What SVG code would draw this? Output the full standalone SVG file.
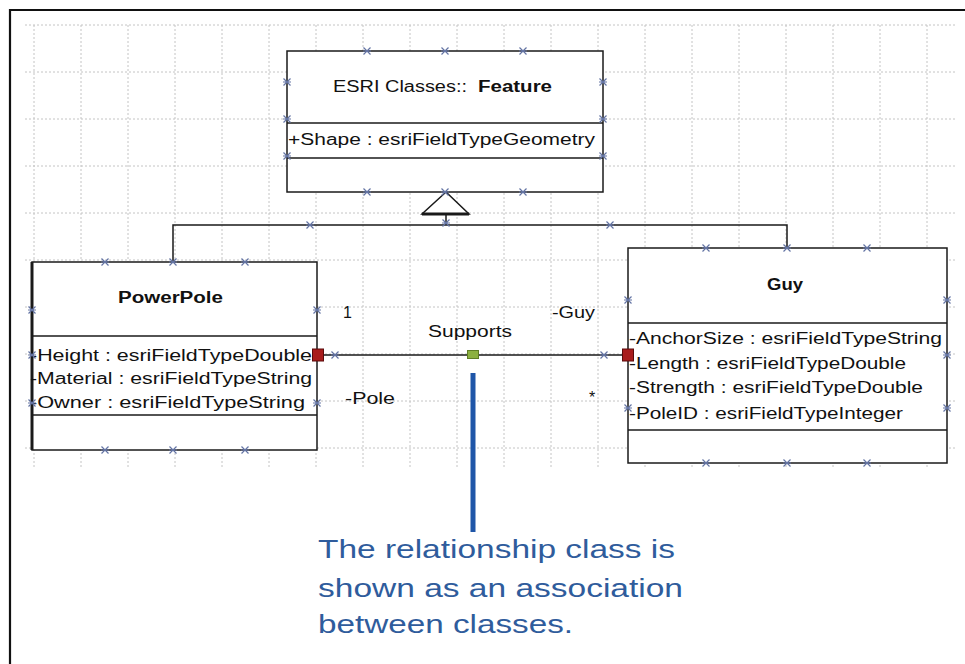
<svg xmlns="http://www.w3.org/2000/svg" width="965" height="664" viewBox="0 0 965 664">
  <defs>
    <style>
      .grid line { stroke: #c4c4c4; stroke-width: 1; stroke-dasharray: 2 2; }
      .box { fill: #ffffff; stroke: #1a1a1a; stroke-width: 1.5; }
      .sep { stroke: #1a1a1a; stroke-width: 1.5; }
      .conn { fill: none; stroke: #1a1a1a; stroke-width: 1.5; }
      .uml { font-family: "Liberation Sans", Arial, sans-serif; font-size: 16px; fill: #111111; }
      .title { font-weight: bold; }
      .note { font-family: "Liberation Sans", Arial, sans-serif; font-size: 25px; fill: #2f5c9c; }
      .handle { fill: none; stroke: #6474a4; stroke-width: 1.2; }
    </style>
    <g id="x">
      <path class="handle" d="M-3.5,-3.5 L3.5,3.5 M-3.5,3.5 L3.5,-3.5 M-4,0 L4,0"/>
    </g>
  </defs>

  <rect width="965" height="664" fill="#ffffff"/>

  <!-- frame -->
  <path d="M10,664 L10,10 L965,10" fill="none" stroke="#111111" stroke-width="2.2"/>

  <!-- drawing grid -->
  <g class="grid">
    <line x1="34" y1="25" x2="34" y2="468"/>
    <line x1="81" y1="25" x2="81" y2="468"/>
    <line x1="128" y1="25" x2="128" y2="468"/>
    <line x1="175" y1="25" x2="175" y2="468"/>
    <line x1="222" y1="25" x2="222" y2="468"/>
    <line x1="269" y1="25" x2="269" y2="468"/>
    <line x1="316" y1="25" x2="316" y2="468"/>
    <line x1="363" y1="25" x2="363" y2="468"/>
    <line x1="410" y1="25" x2="410" y2="468"/>
    <line x1="457" y1="25" x2="457" y2="468"/>
    <line x1="504" y1="25" x2="504" y2="468"/>
    <line x1="551" y1="25" x2="551" y2="468"/>
    <line x1="598" y1="25" x2="598" y2="468"/>
    <line x1="645" y1="25" x2="645" y2="468"/>
    <line x1="692" y1="25" x2="692" y2="468"/>
    <line x1="739" y1="25" x2="739" y2="468"/>
    <line x1="786" y1="25" x2="786" y2="468"/>
    <line x1="833" y1="25" x2="833" y2="468"/>
    <line x1="880" y1="25" x2="880" y2="468"/>
    <line x1="927" y1="25" x2="927" y2="468"/>
    <line x1="25" y1="25" x2="955" y2="25"/>
    <line x1="25" y1="72" x2="955" y2="72"/>
    <line x1="25" y1="119" x2="955" y2="119"/>
    <line x1="25" y1="166" x2="955" y2="166"/>
    <line x1="25" y1="213" x2="955" y2="213"/>
    <line x1="25" y1="260" x2="955" y2="260"/>
    <line x1="25" y1="307" x2="955" y2="307"/>
    <line x1="25" y1="354" x2="955" y2="354"/>
    <line x1="25" y1="401" x2="955" y2="401"/>
    <line x1="25" y1="448" x2="955" y2="448"/>
  </g>

  <!-- connectors -->
  <g id="connectors">
    <!-- generalization to Feature -->
    <path class="conn" d="M173,262 L173,225 L787,225 L787,248"/>
    <path class="conn" d="M446,214 L446,225"/>
    <polygon points="446,192 422,214 469,214" fill="#ffffff" stroke="#1a1a1a" stroke-width="1.5"/>
    <line x1="422" y1="214" x2="469" y2="214" stroke="#1a1a1a" stroke-width="3"/>
    <!-- Supports association -->
    <line class="conn" x1="317" y1="355" x2="628" y2="355"/>
  </g>

  <!-- Feature class -->
  <g id="feature">
    <rect class="box" x="287" y="51" width="316" height="141"/>
    <line class="sep" x1="287" y1="123" x2="603" y2="123"/>
    <line class="sep" x1="287" y1="158" x2="603" y2="158"/>
    <text class="uml" x="333" y="92" textLength="134" lengthAdjust="spacingAndGlyphs">ESRI Classes::</text>
    <text class="uml title" x="478" y="92" textLength="74" lengthAdjust="spacingAndGlyphs">Feature</text>
    <text class="uml" x="288" y="145" textLength="307" lengthAdjust="spacingAndGlyphs">+Shape : esriFieldTypeGeometry</text>
  </g>

  <!-- PowerPole class -->
  <g id="powerpole">
    <rect class="box" x="32" y="262" width="285" height="188"/>
    <line x1="32" y1="262" x2="32" y2="450" stroke="#1a1a1a" stroke-width="3"/>
    <line class="sep" x1="32" y1="336" x2="317" y2="336"/>
    <line class="sep" x1="32" y1="415" x2="317" y2="415"/>
    <text class="uml title" x="118" y="303" textLength="105" lengthAdjust="spacingAndGlyphs">PowerPole</text>
    <text class="uml" x="30" y="361" textLength="282" lengthAdjust="spacingAndGlyphs">-Height : esriFieldTypeDouble</text>
    <text class="uml" x="30" y="384" textLength="282" lengthAdjust="spacingAndGlyphs">-Material : esriFieldTypeString</text>
    <text class="uml" x="30" y="408" textLength="275" lengthAdjust="spacingAndGlyphs">-Owner : esriFieldTypeString</text>
  </g>

  <!-- Guy class -->
  <g id="guy">
    <rect class="box" x="628" y="248" width="319" height="215"/>
    <line class="sep" x1="628" y1="323" x2="947" y2="323"/>
    <line class="sep" x1="628" y1="430" x2="947" y2="430"/>
    <text class="uml title" x="767" y="290" textLength="36" lengthAdjust="spacingAndGlyphs">Guy</text>
    <text class="uml" x="629" y="344" textLength="313" lengthAdjust="spacingAndGlyphs">-AnchorSize : esriFieldTypeString</text>
    <text class="uml" x="629" y="369" textLength="277" lengthAdjust="spacingAndGlyphs">-Length : esriFieldTypeDouble</text>
    <text class="uml" x="629" y="393" textLength="294" lengthAdjust="spacingAndGlyphs">-Strength : esriFieldTypeDouble</text>
    <text class="uml" x="629" y="419" textLength="274" lengthAdjust="spacingAndGlyphs">-PoleID : esriFieldTypeInteger</text>
  </g>

  <!-- association ends and labels -->
  <g id="supports">
    <rect x="312.5" y="349" width="11" height="12" fill="#a81c1c" stroke="#5a0a0a" stroke-width="1"/>
    <rect x="622.5" y="349" width="11" height="12" fill="#a81c1c" stroke="#5a0a0a" stroke-width="1"/>
    <rect x="467.5" y="350.5" width="11" height="8" fill="#8cb040" stroke="#5f7d25" stroke-width="1"/>
    <text class="uml" x="343" y="318">1</text>
    <text class="uml" x="552" y="318" textLength="43" lengthAdjust="spacingAndGlyphs">-Guy</text>
    <text class="uml" x="428" y="337" textLength="84" lengthAdjust="spacingAndGlyphs">Supports</text>
    <text class="uml" x="345" y="404" textLength="50" lengthAdjust="spacingAndGlyphs">-Pole</text>
    <text class="uml" x="589" y="403">*</text>
  </g>

  <!-- connection handles -->
  <g id="handles">
    <use href="#x" x="367" y="51"/><use href="#x" x="445" y="51"/><use href="#x" x="523" y="51"/>
    <use href="#x" x="367" y="192"/><use href="#x" x="445" y="192"/><use href="#x" x="523" y="192"/>
    <use href="#x" x="287" y="82"/><use href="#x" x="287" y="119"/><use href="#x" x="287" y="156"/>
    <use href="#x" x="603" y="82"/><use href="#x" x="603" y="119"/><use href="#x" x="603" y="156"/>
    <use href="#x" x="310" y="225"/><use href="#x" x="446" y="223"/><use href="#x" x="610" y="225"/>
    <use href="#x" x="105" y="262"/><use href="#x" x="173" y="262"/><use href="#x" x="245" y="262"/>
    <use href="#x" x="105" y="450"/><use href="#x" x="173" y="450"/><use href="#x" x="245" y="450"/>
    <use href="#x" x="32" y="310"/><use href="#x" x="32" y="355"/><use href="#x" x="32" y="403"/>
    <use href="#x" x="317" y="310"/><use href="#x" x="317" y="403"/>
    <use href="#x" x="706" y="248"/><use href="#x" x="787" y="248"/><use href="#x" x="867" y="248"/>
    <use href="#x" x="706" y="463"/><use href="#x" x="787" y="463"/><use href="#x" x="867" y="463"/>
    <use href="#x" x="628" y="300"/><use href="#x" x="628" y="408"/>
    <use href="#x" x="947" y="300"/><use href="#x" x="947" y="355"/><use href="#x" x="947" y="408"/>
    <use href="#x" x="335" y="355"/><use href="#x" x="604" y="355"/>
  </g>

  <!-- callout -->
  <g id="callout">
    <line x1="473" y1="373" x2="473" y2="532" stroke="#1f56a8" stroke-width="5"/>
    <text class="note" x="318" y="558" textLength="357" lengthAdjust="spacingAndGlyphs">The relationship class is</text>
    <text class="note" x="318" y="597" textLength="365" lengthAdjust="spacingAndGlyphs">shown as an association</text>
    <text class="note" x="318" y="633" textLength="255" lengthAdjust="spacingAndGlyphs">between classes.</text>
  </g>
</svg>
